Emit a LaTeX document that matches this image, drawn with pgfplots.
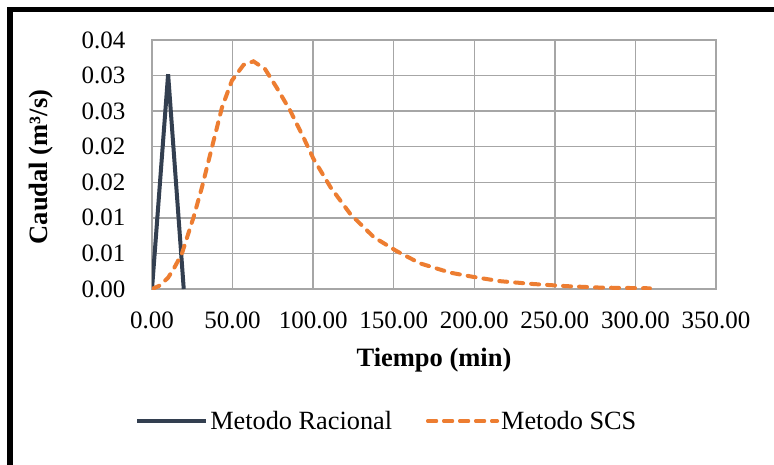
\documentclass[border=0pt]{standalone}
\usepackage{fontspec}
\setmainfont{Liberation Serif}
\usepackage{pgfplots}
\pgfplotsset{compat=1.18}
\definecolor{racional}{HTML}{333F50}
\definecolor{scs}{HTML}{ED7D31}
\definecolor{gridc}{HTML}{A6A6A6}

\pgfplotstableread{
x y
0 0
10 0.0302
19.7 0
}\racional

\pgfplotstableread{
x y
0 0
5 0.0005
10 0.0016
13.4 0.0028
18.6 0.0050
25.8 0.0101
31 0.0143
37.2 0.0199
43.4 0.0255
49.6 0.0293
56.8 0.0315
63 0.0320
70.2 0.0309
77.4 0.0283
85.7 0.0251
94 0.0213
100.2 0.0183
110.8 0.0143
123.2 0.0105
137.6 0.0073
152 0.0053
166.4 0.0036
185 0.0023
199.4 0.0017
216 0.0011
236.6 0.0007
257.3 0.0004
278 0.0002
309 0.0001
}\scs

\begin{document}
\begin{tikzpicture}[x=1pt,y=1pt]
\useasboundingbox (0,0) rectangle (774,464);
\fill[white] (0,0) rectangle (774,464);
\draw[black, line width=5.5pt] (10,-10) -- (10,454.5) -- (790,454.5);
\begin{axis}[
  at={(152pt,175pt)}, anchor=south west,
  scale only axis, width=564pt, height=249pt,
  xmin=0, xmax=350, ymin=0, ymax=0.035,
  xtick={0,50,100,150,200,250,300,350},
  xticklabels={0.00,50.00,100.00,150.00,200.00,250.00,300.00,350.00},
  ytick={0,0.005,0.01,0.015,0.02,0.025,0.03,0.035},
  yticklabels={0.00,0.01,0.01,0.02,0.02,0.03,0.03,0.04},
  scaled y ticks=false,
  grid=major, major grid style={gridc, line width=1.3pt},
  axis line style={gridc, line width=1.3pt},
  tick style={draw=none},
  tick label style={font=\fontsize{25}{29}\selectfont},
  yticklabel style={xshift=-23pt},
  xticklabel style={yshift=-19pt},
  xlabel={\textbf{Tiempo (min)}},
  ylabel={\textbf{Caudal (m³/s)}},
  label style={font=\fontsize{26.5}{30}\selectfont},
  xlabel style={at={(axis description cs:0.5,-0.285)}, anchor=center},
  ylabel style={at={(axis description cs:-0.196,0.49)}, anchor=center, rotate=0},
  legend columns=2,
  legend style={at={(axis description cs:-0.030,-0.530)}, anchor=west,
    draw=none, fill=none, inner sep=0pt,
    font=\fontsize{26.3}{30}\selectfont,
    /tikz/every even column/.append style={column sep=32pt}},
  legend image code/.code={\draw[#1] (0pt,0pt) -- (65pt,0pt); \path (0pt,0pt) -- (69pt,0pt);},
]
\addplot[racional, line width=4pt, line join=miter] table {\racional};
\addlegendentry{Metodo Racional}
\addplot[scs, line width=4pt, line cap=round, dash pattern=on 8pt off 8pt] table {\scs};
\addlegendentry{Metodo SCS}
\end{axis}
\end{tikzpicture}
\end{document}
